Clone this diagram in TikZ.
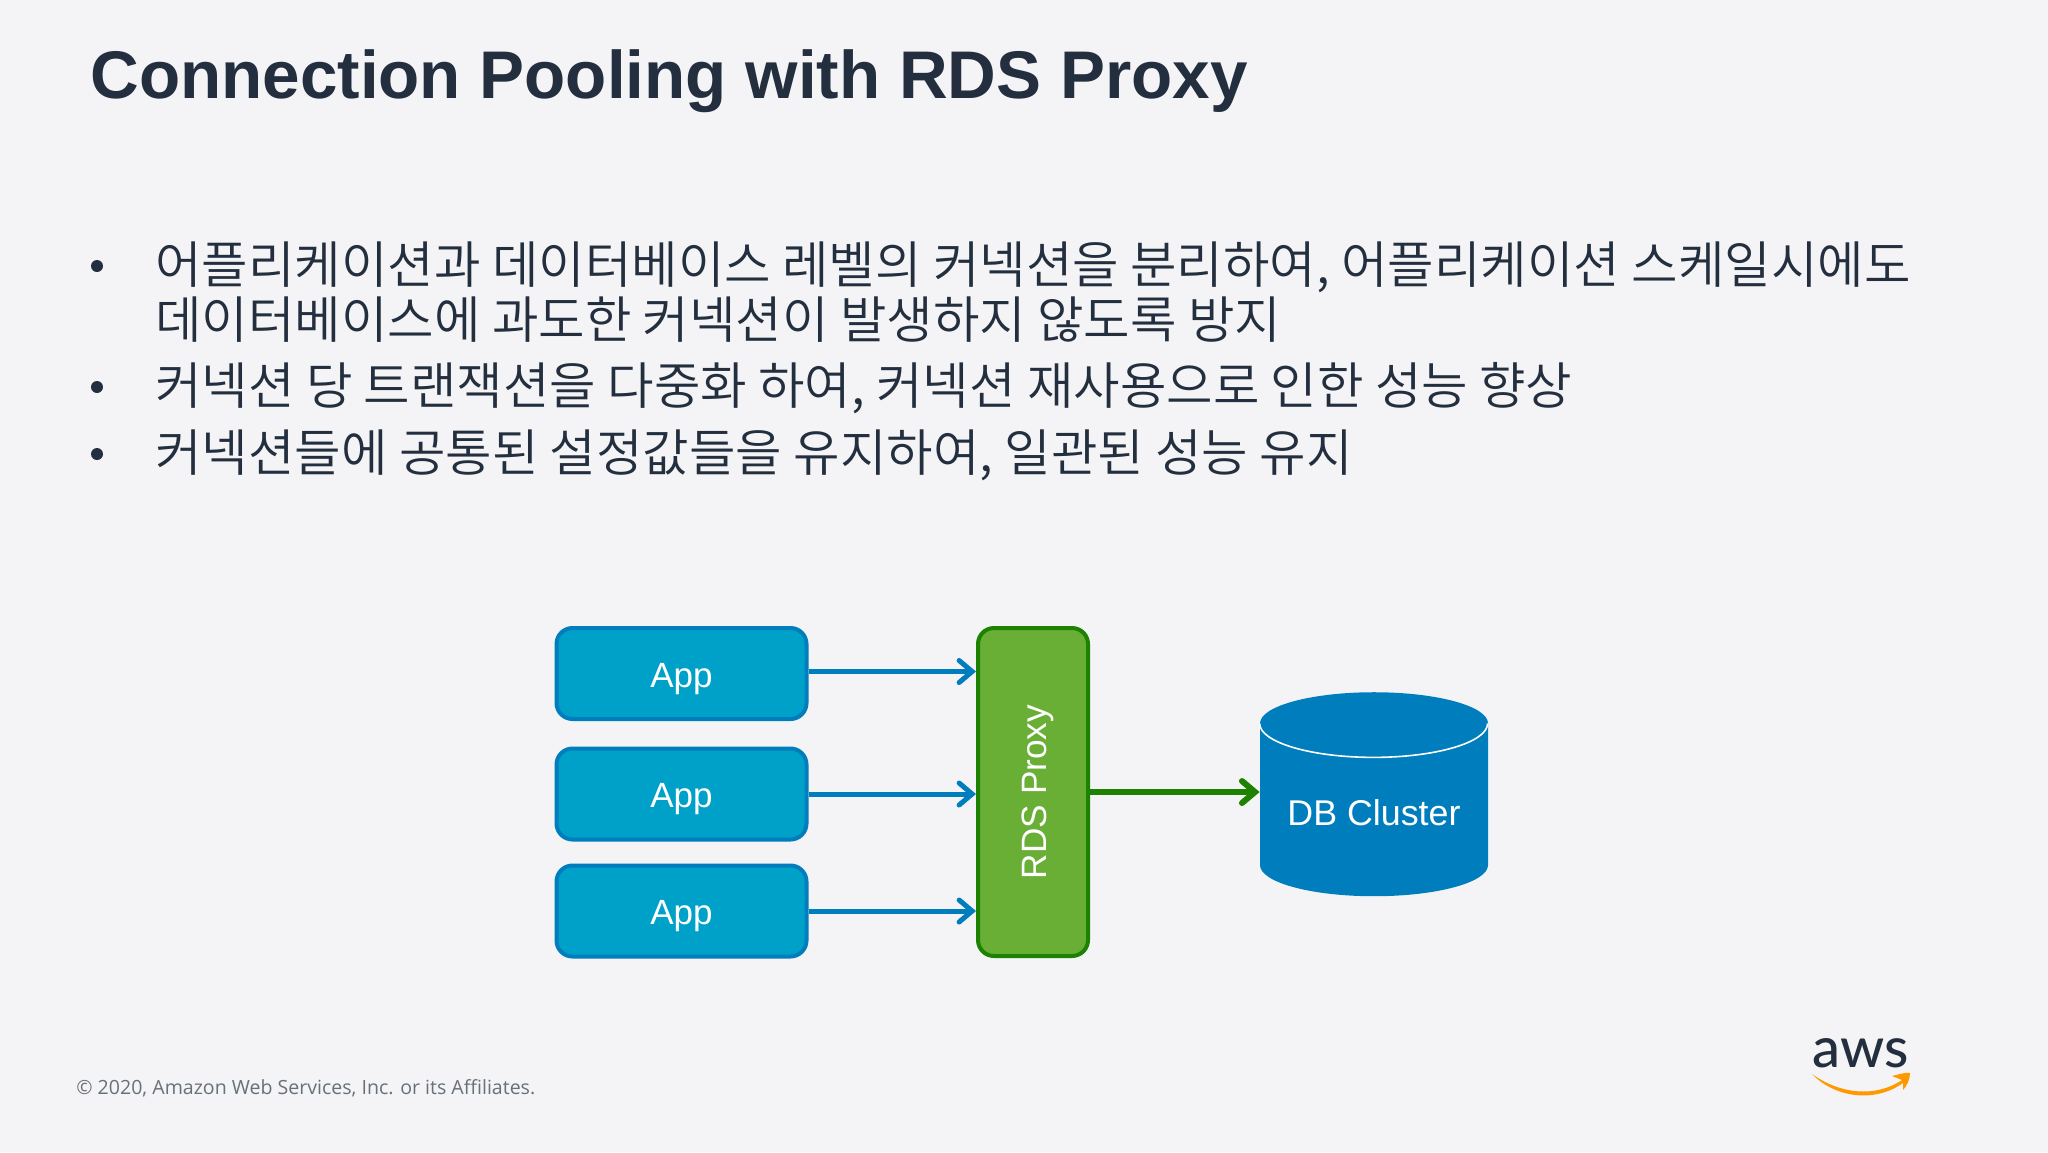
\documentclass[tikz,border=0pt]{standalone}
\usepackage{fontspec}
\setmainfont{Liberation Sans}
\newfontfamily\krfont{Noto Sans CJK KR DemiLight}
\newfontfamily\footfont{Open Sans}
\newfontfamily\logofont{Lato Medium}
\usetikzlibrary{arrows.meta}
\usetikzlibrary{shapes.geometric}

\definecolor{slidebg}{HTML}{F4F4F6}
\definecolor{inkdark}{HTML}{232F3E}
\definecolor{appfill}{HTML}{00A1C9}
\definecolor{bluedark}{HTML}{007DBC}
\definecolor{proxyfill}{HTML}{6AAF35}
\definecolor{greendark}{HTML}{1D8102}
\definecolor{footgray}{HTML}{687078}
\definecolor{awsorange}{HTML}{FF9900}

\tikzset{
  appbox/.style={shape=rectangle, rounded corners=8pt, draw=bluedark, fill=appfill, line width=2pt,
    minimum width=125pt, minimum height=45.5pt, text=white, text height=13.5pt, text depth=0pt,
    font=\fontsize{17.5}{20}\selectfont},
  proxybox/.style={shape=rectangle, rounded corners=8pt, draw=greendark, fill=proxyfill, line width=2pt,
    minimum width=55pt, minimum height=164pt, text=white, font=\fontsize{17.6}{20}\selectfont},
  bodytext/.style={anchor=base west, inner sep=0pt, text=inkdark, font=\krfont\fontsize{25.27}{30}\selectfont},
  bulletdot/.style={shape=circle, fill=inkdark, inner sep=0pt, minimum size=6pt},
  bluelink/.style={->, draw=bluedark, line width=2.5pt},
  greenlink/.style={->, draw=greendark, line width=3pt},
  >={Straight Barb[length=6.5pt, width=11pt, line cap=round]}
}

\begin{document}
\begin{tikzpicture}[x=0.5pt, y=-0.5pt]
      \fill [slidebg] (0,0) rectangle (2048,1152);
      \useasboundingbox (0,0) rectangle (2048,1152);

      \node (title) at (90,98) [anchor=base west, inner sep=0pt, text=inkdark, font=\bfseries\fontsize{33.7}{40}\selectfont] {Connection Pooling with RDS Proxy};

      \node (dot1) [bulletdot] at (97,266) {};
      \node (dot2) [bulletdot] at (97,387) {};
      \node (dot3) [bulletdot] at (97,454) {};
      \node (line1) [bodytext] at (155,283.5) {어플리케이션과 데이터베이스 레벨의 커넥션을 분리하여, 어플리케이션 스케일시에도};
      \node (line2) [bodytext] at (155,338.5) {데이터베이스에 과도한 커넥션이 발생하지 않도록 방지};
      \node (line3) [bodytext] at (155,404.5) {커넥션 당 트랜잭션을 다중화 하여, 커넥션 재사용으로 인한 성능 향상};
      \node (line4) [bodytext] at (155,471.5) {커넥션들에 공통된 설정값들을 유지하여, 일관된 성능 유지};

      \node (app1) [appbox] at (681.5,673.5) {App};
      \node (app2) [appbox] at (681.5,794) {App};
      \node (app3) [appbox] at (681.5,911) {App};
      \node (proxy) [proxybox] at (1033,792) {\hspace{5pt}\rotatebox{90}{RDS Proxy}};

      \node (db) [shape=cylinder, shape border rotate=90, aspect=0.36, fill=bluedark, inner sep=0pt,
        minimum width=114pt, minimum height=102pt, text=white, text height=15.5pt, text depth=0pt,
        font=\fontsize{17.9}{20}\selectfont] at (1374,810) {DB Cluster};
      \draw [white, line width=0.8pt] (db.before top) arc (180:0:114 and 34);

      \draw [bluelink] ([yshift=1pt]app1.east) -- ([yshift=1pt]app1.east -| proxy.west);
      \draw [bluelink] (app2.east) -- (app2.east -| proxy.west);
      \draw [bluelink] (app3.east) -- (app3.east -| proxy.west);
      \draw [greenlink] (proxy.east) -- (proxy.east -| db.west);

      \node (foot) at (76,1094) [anchor=base west, inner sep=0pt, text=footgray, font=\footfont\fontsize{9.78}{12}\selectfont] {© 2020, Amazon Web Services, Inc. or its Affiliates.};

      \node (aws) at (1861,1067) [anchor=base, inner sep=0pt, text=inkdark, font=\logofont\fontsize{28}{30}\selectfont] {aws};
      \fill [awsorange] (1812,1074) .. controls (1840,1094) and (1875,1098) .. (1902,1080) -- (1892,1076) .. controls (1897,1075) and (1905,1072) .. (1910,1073) .. controls (1910,1079) and (1907,1086) .. (1903,1090) -- (1903,1083) .. controls (1875,1103) and (1835,1098) .. (1812,1074) -- cycle;
    \end{tikzpicture}
\end{document}
